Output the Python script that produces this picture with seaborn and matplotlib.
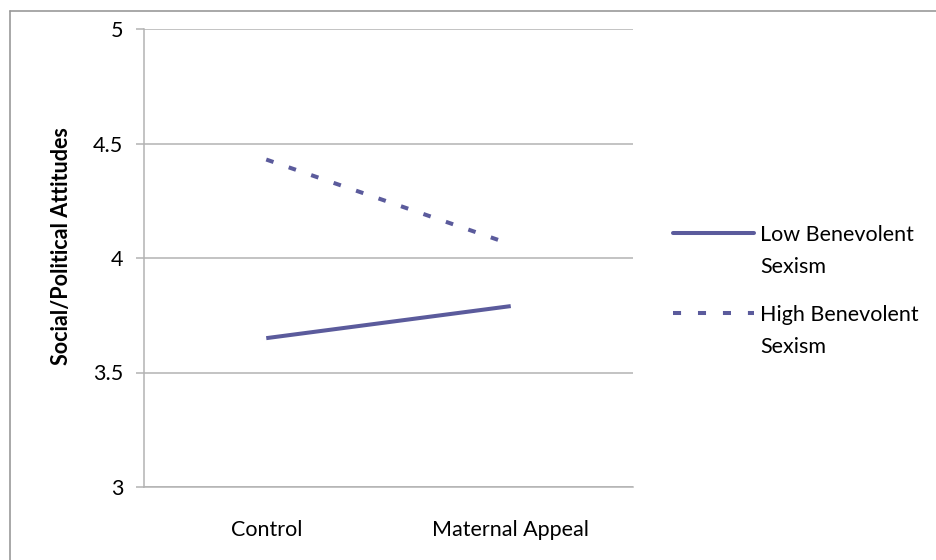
import matplotlib
matplotlib.use("Agg")
import matplotlib.pyplot as plt
import seaborn as sns
import pandas as pd
from matplotlib.lines import Line2D
from matplotlib.transforms import IdentityTransform

conditions = ["Control", "Maternal Appeal"]
low_bs = [3.65, 3.79]
high_bs = [4.43, 4.06]
series_names = ["Low Benevolent", "High Benevolent"]
series_second_line = ["Sexism", "Sexism"]
yticks = [3, 3.5, 4, 4.5, 5]

df = pd.DataFrame({
    "Condition": conditions * 2,
    "Value": low_bs + high_bs,
    "Series": [series_names[0]] * 2 + [series_names[1]] * 2,
})

sns.set_style("white")
plt.rcParams["font.family"] = ["Lato", "DejaVu Sans"]
plt.rcParams["text.color"] = "black"
plt.rcParams["axes.labelcolor"] = "black"
plt.rcParams["xtick.labelcolor"] = "black"
plt.rcParams["ytick.labelcolor"] = "black"

color = "#5B5B9C"
fig = plt.figure(figsize=(9.37, 5.6), dpi=100)
ax = fig.add_axes([144/937, 1-487/560, (633-144)/937, (487-29)/560])

sns.lineplot(data=df, x="Condition", y="Value", hue="Series", style="Series",
             palette=[color, color], dashes=[(1, 0), (1.9, 4.0)],
             linewidth=2.9, ax=ax, legend=False, sort=False)

ax.set_xlim(-0.5, 1.5)
ax.set_ylim(3, 5)
ax.set_yticks(yticks)
ax.set_yticklabels(["3", "3.5", "4", "4.5", "5"])
ax.yaxis.grid(True, color="#b3b3b3", linewidth=1.1)
ax.xaxis.grid(False)
ax.set_axisbelow(True)
for s in ["top", "right"]:
    ax.spines[s].set_visible(False)
for s in ["left", "bottom"]:
    ax.spines[s].set_color("#b3b3b3")
    ax.spines[s].set_linewidth(1.1)
ax.tick_params(axis="y", left=True, length=6, width=1.1, color="#b3b3b3",
               labelcolor="black", pad=9, labelsize=15.5)
ax.tick_params(axis="x", bottom=False, pad=20, labelsize=15.5, labelcolor="black")
ax.set_xlabel("")
ax.set_ylabel("Social/Political Attitudes", fontsize=15.5, fontweight="bold",
              labelpad=15, y=0.525, color="black")

handles = [Line2D([], [], color=color, linewidth=2.9, linestyle="-"),
           Line2D([], [], color=color, linewidth=2.9, dashes=(2, 4.2))]
leg = fig.legend(handles, series_names, loc="upper left",
                 bbox_to_anchor=(664/937, 1-216/560), frameon=False,
                 fontsize=15.5, handlelength=3.8, handletextpad=0.25,
                 labelspacing=2.8, borderaxespad=0, labelcolor="black")

fig.canvas.draw()
for t, second in zip(leg.get_texts(), series_second_line):
    bb = t.get_window_extent()
    fig.text(bb.x0, (bb.y0 + bb.y1) / 2 - 32, second, transform=IdentityTransform(),
             ha="left", va="center", fontsize=15.5, color="black")

# partial chart frame (top and left)
fig.add_artist(Line2D([10/937, 1], [1-11/560, 1-11/560], transform=fig.transFigure,
                      color="#999999", linewidth=1.2))
fig.add_artist(Line2D([10/937, 10/937], [0, 1-11/560], transform=fig.transFigure,
                      color="#999999", linewidth=1.2))

fig.savefig("out.png", dpi=100)
